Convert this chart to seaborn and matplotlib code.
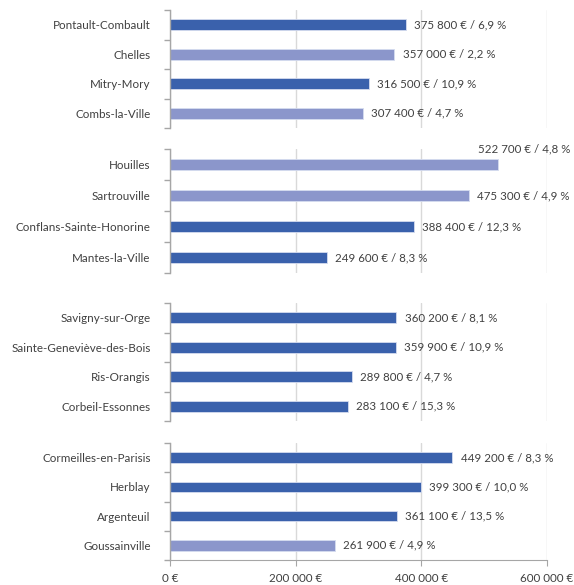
import numpy as np
import pandas as pd
import matplotlib
matplotlib.use("Agg")
import matplotlib.pyplot as plt
import seaborn as sns

# data, one block of four towns per panel
cities = [
    "Pontault-Combault", "Chelles", "Mitry-Mory", "Combs-la-Ville",
    "Houilles", "Sartrouville", "Conflans-Sainte-Honorine", "Mantes-la-Ville",
    "Savigny-sur-Orge", "Sainte-Geneviève-des-Bois", "Ris-Orangis", "Corbeil-Essonnes",
    "Cormeilles-en-Parisis", "Herblay", "Argenteuil", "Goussainville",
]
prices = [
    375800, 357000, 316500, 307400,
    522700, 475300, 388400, 249600,
    360200, 359900, 289800, 283100,
    449200, 399300, 361100, 261900,
]
rates = [
    "6,9", "2,2", "10,9", "4,7",
    "4,8", "4,9", "12,3", "8,3",
    "8,1", "10,9", "4,7", "15,3",
    "8,3", "10,0", "13,5", "4,9",
]
tones = [
    "dark", "light", "dark", "light",
    "light", "light", "dark", "dark",
    "dark", "dark", "dark", "dark",
    "dark", "dark", "dark", "light",
]
panel = [0] * 4 + [1] * 4 + [2] * 4 + [3] * 4
xticks = [0, 200000, 400000, 600000]

df = pd.DataFrame({"city": cities, "price": prices, "rate": rates,
                   "tone": tones, "panel": panel})

palette = {"dark": "#3a61ac", "light": "#8b96cb"}
text_col = "#404040"
grid_col = "#d9d9d9"
spine_col = "#a6a6a6"

sns.set_style("white")
plt.rcParams["font.family"] = ["Lato", "DejaVu Sans"]

W, H = 574, 585
fig = plt.figure(figsize=(W / 100, H / 100), dpi=100)

# panel extents in pixels (top, bottom)
rows = [(10, 128), (149, 273), (303, 421), (443, 560)]
x0, x1 = 170, 547


def money(v):
    return f"{v:,}".replace(",", " ") + " €"


for i, (top, bot) in enumerate(rows):
    ax = fig.add_axes([x0 / W, 1 - bot / H, (x1 - x0) / W, (bot - top) / H])
    sub = df[df["panel"] == i]
    sns.barplot(data=sub, x="price", y="city", hue="tone", palette=palette,
                saturation=1, dodge=False, width=0.36, legend=False, orient="h",
                ax=ax, edgecolor="#d5dcef", linewidth=0.6)
    ax.set_xlim(0, 600000)
    ax.set_ylim(3.5, -0.5)
    ax.set_xlabel("")
    ax.set_ylabel("")
    ax.set_xticks(xticks)
    ax.grid(axis="x", color=grid_col, linewidth=1)
    ax.set_axisbelow(True)
    for s in ["top", "right"]:
        ax.spines[s].set_visible(False)
    ax.spines["left"].set_color(spine_col)
    ax.spines["left"].set_linewidth(1)
    ax.set_yticks(np.arange(-0.5, 4, 1), minor=True)
    ax.tick_params(axis="y", which="major", length=0, pad=14,
                   labelsize=8.4, labelcolor=text_col)
    ax.tick_params(axis="y", which="minor", left=True, length=4,
                   color=spine_col, width=1)
    if i == 3:
        ax.spines["bottom"].set_color(spine_col)
        ax.tick_params(axis="x", bottom=True, length=4, color=spine_col,
                       labelsize=8.4, labelcolor=text_col, pad=5)
        ax.set_xticklabels([money(t) for t in xticks])
    else:
        ax.spines["bottom"].set_visible(False)
        ax.tick_params(axis="x", bottom=False, labelbottom=False)

    for j, row in enumerate(sub.itertuples()):
        label = f"{money(row.price)} / {row.rate} %"
        # the longest bar has its label lifted above it, like the source
        if row.price > 500000:
            off = (-15, 11)
        else:
            off = (6, 0)
        ax.annotate(label, (row.price, j), xytext=off, textcoords="offset points",
                    ha="left", va="center", fontsize=8.3, color=text_col,
                    annotation_clip=False)

fig.savefig("out.png", dpi=100)
